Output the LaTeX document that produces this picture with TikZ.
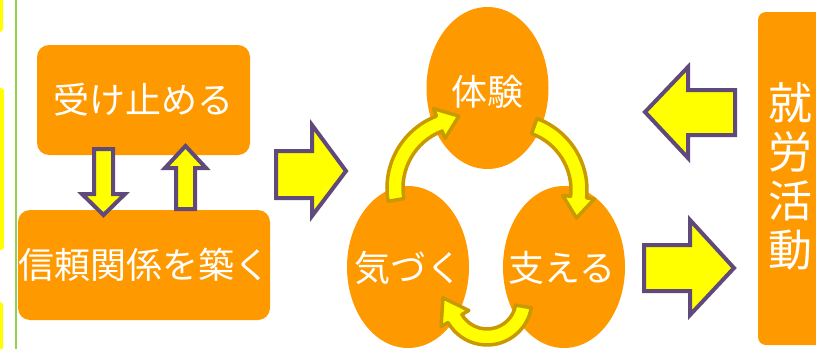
\documentclass[tikz,border=0pt]{standalone}
\usepackage{fontspec}
\newfontfamily\jp{Noto Sans CJK JP}
\usetikzlibrary{calc,shapes.geometric}
\definecolor{org}{HTML}{FF9900}
\definecolor{pur}{HTML}{604A7B}
\definecolor{gold}{HTML}{C99A00}
\definecolor{grn}{HTML}{92D050}
\definecolor{yel}{HTML}{FFFF00}
\newcommand\ArcArrow[7]{% cx cy r startangle endangle headlength tangentangle
  \pgfmathsetmacro\arcRo{#3+8}\pgfmathsetmacro\arcRi{#3-8}%
  \pgfmathsetmacro\arcHo{#3+16}\pgfmathsetmacro\arcHi{#3-16}%
  \draw[curvearrow] ($(#1,#2)+(#4:\arcRo)$) arc[start angle=#4, end angle=#5, radius=\arcRo]
    -- ($(#1,#2)+(#5:\arcHo)$) -- ($(#1,#2)+(#5:#3)+(#7:#6)$) -- ($(#1,#2)+(#5:\arcHi)$)
    -- ($(#1,#2)+(#5:\arcRi)$) arc[start angle=#5, end angle=#4, radius=\arcRi] -- cycle;}
\begin{document}
\begin{tikzpicture}[x=1pt,y=-1pt,
  box/.style={fill=org, rounded corners=12pt, inner sep=0},
  lbl/.style={text=white, font=\jp\fontsize{36}{40}\selectfont, inner sep=0},
  blockarrow/.style={fill=yel, draw=pur, line width=4pt, line join=miter},
  curvearrow/.style={fill=yel, draw=gold, line width=3.5pt, line join=round},
  egg/.style={ellipse, fill=org, minimum width=122pt, minimum height=162pt, inner sep=0}]
\useasboundingbox (0,0) rectangle (816,348);
% left edge decorations
\fill[yel, rounded corners=3pt] (-6,-6) rectangle (3,32);
\fill[yel, rounded corners=3pt] (-6,88) rectangle (4,250);
\fill[yel, rounded corners=3pt] (-6,302) rectangle (3,356);
\coordinate (gtop) at (16,-2);
\coordinate (gbot) at (16,350);
\draw[grn, line width=2.5pt] (gtop) -- (gbot);
% left boxes
\node[box, lbl, minimum width=213pt, minimum height=110pt] (uke) at (143.5,100) {受け止める};
\node[box, lbl, minimum width=252pt, minimum height=110pt] (shinrai) at (144,265) {信頼関係を築く};
% right box
\fill[org, rounded corners=8pt] (758,12) rectangle (840,345);
\node[lbl, align=center, font=\jp\fontsize{44}{49}\selectfont] (shuro) at (790,176) {就\\労\\活\\動};
% eggs
\node[egg] (taiken) at (487.5,88) {};
\node[egg] (kizuku) at (408,267) {};
\node[egg] (sasaeru) at (564,267) {};
\node[lbl] (taikenT) at (487,92) {体験};
\node[lbl] (kizukuT) at (408,268) {気づく};
\node[lbl] (sasaeruT) at (562,268) {支える};
% block arrows
\draw[blockarrow] (94,149) -- (113,149) -- (113,194) -- (125,194) -- (103.5,215) -- (82,194) -- (94,194) -- cycle;
\draw[blockarrow] (176,209) -- (195,209) -- (195,168) -- (206,168) -- (185.5,146) -- (165,168) -- (176,168) -- cycle;
\draw[blockarrow] (276,151) -- (312,151) -- (312,125) -- (346,171) -- (312,216) -- (312,198) -- (276,198) -- cycle;
\draw[blockarrow] (735,90) -- (688,90) -- (688,67) -- (645,112) -- (688,158) -- (688,135) -- (735,135) -- cycle;
\draw[blockarrow] (644,245) -- (690,245) -- (690,220) -- (734,268) -- (690,315) -- (690,291) -- (644,291) -- cycle;
% curved arrows
\ArcArrow{464}{188}{69}{170}{249}{21}{339}
\ArcArrow{511}{190}{68}{290}{366}{21}{96}
\ArcArrow{487}{300}{37}{10}{150}{24}{240}
\end{tikzpicture}
\end{document}
